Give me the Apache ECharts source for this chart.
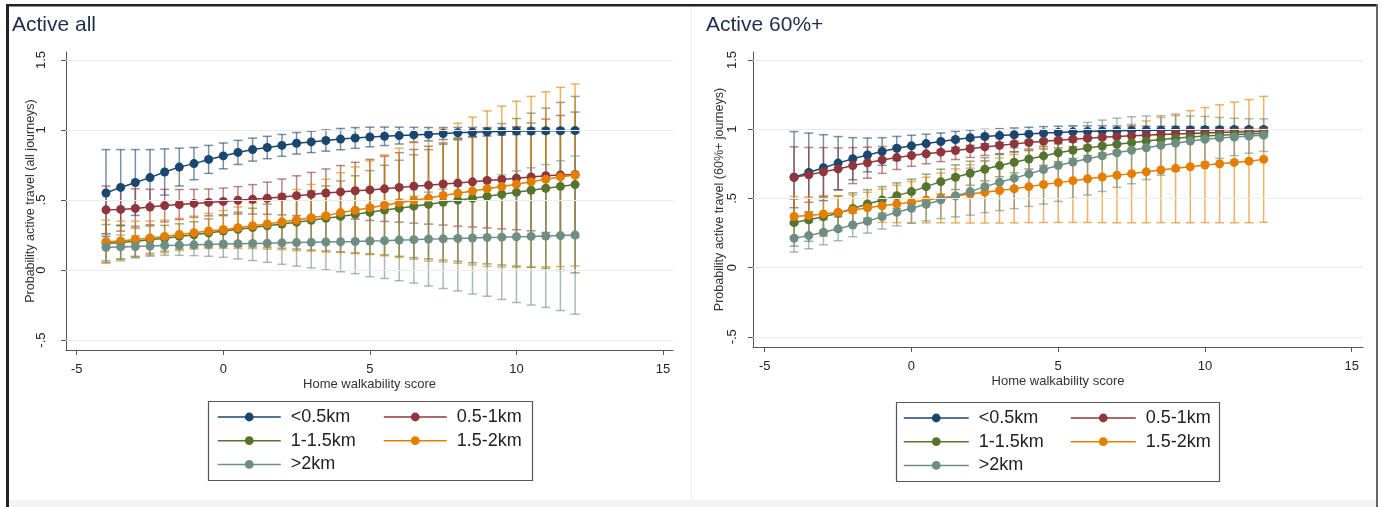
<!DOCTYPE html>
<html><head><meta charset="utf-8">
<script src="https://cdn.jsdelivr.net/npm/echarts@6/dist/echarts.min.js"></script>
<style>html,body{margin:0;padding:0;background:#fff}#c{width:1381px;height:507px}</style>
</head><body><div id="c"></div>
<script>
// ---------- DATA ----------
const xs = [-4,-3.5,-3,-2.5,-2,-1.5,-1,-0.5,0,0.5,1,1.5,2,2.5,3,3.5,4,4.5,5,5.5,6,6.5,7,7.5,8,8.5,9,9.5,10,10.5,11,11.5,12];
const seriesNames = ['<0.5km','0.5-1km','1-1.5km','1.5-2km','>2km'];
const panelTitles = ['Active all','Active 60%+'];
const yTitles = ['Probability active travel (all journeys)','Probability active travel (60%+ journeys)'];
const xTitle = 'Home walkability score';
const xTicks = [-5,0,5,10,15];
const xTickLabels = ['-5','0','5','10','15'];
const yTicks = [-0.5,0,0.5,1,1.5];
const yTickLabels = ['-.5','0','.5','1','1.5'];

// Panel 1: Active all  (point estimates and CI half-widths)
const all_lt05    = [0.55,0.59,0.625,0.66,0.70,0.735,0.76,0.79,0.815,0.84,0.86,0.875,0.89,0.905,0.915,0.925,0.935,0.943,0.95,0.955,0.96,0.965,0.97,0.975,0.98,0.984,0.987,0.99,0.992,0.993,0.994,0.995,0.996];
const all_lt05_ci = [0.31,0.27,0.235,0.2,0.165,0.135,0.115,0.1,0.092,0.086,0.082,0.08,0.078,0.077,0.076,0.076,0.076,0.074,0.07,0.066,0.06,0.054,0.048,0.043,0.038,0.034,0.03,0.027,0.024,0.021,0.019,0.017,0.015];
const all_05_1    = [0.43,0.433,0.44,0.45,0.46,0.468,0.476,0.483,0.49,0.498,0.505,0.513,0.522,0.531,0.54,0.55,0.558,0.566,0.572,0.58,0.59,0.598,0.606,0.614,0.621,0.63,0.639,0.647,0.656,0.665,0.673,0.679,0.683];
const all_05_1_ci = [0.17,0.155,0.14,0.127,0.116,0.107,0.1,0.096,0.095,0.098,0.105,0.115,0.128,0.142,0.157,0.172,0.188,0.203,0.218,0.233,0.248,0.263,0.278,0.293,0.308,0.323,0.338,0.353,0.368,0.385,0.405,0.425,0.445];
const all_1_15    = [0.19,0.196,0.206,0.216,0.227,0.24,0.252,0.265,0.278,0.29,0.303,0.316,0.329,0.342,0.355,0.369,0.383,0.398,0.413,0.428,0.441,0.456,0.47,0.484,0.499,0.512,0.527,0.541,0.555,0.57,0.584,0.597,0.61];
const all_1_15_ci = [0.135,0.12,0.108,0.098,0.092,0.09,0.093,0.1,0.11,0.123,0.138,0.155,0.173,0.192,0.212,0.232,0.253,0.275,0.297,0.32,0.343,0.367,0.39,0.413,0.437,0.46,0.483,0.505,0.527,0.55,0.572,0.6,0.63];
const all_15_2    = [0.202,0.207,0.218,0.228,0.24,0.254,0.267,0.279,0.29,0.302,0.316,0.329,0.344,0.357,0.373,0.388,0.41,0.427,0.445,0.462,0.48,0.497,0.514,0.532,0.548,0.564,0.581,0.596,0.612,0.63,0.648,0.665,0.679];
const all_15_2_ci = [0.154,0.142,0.131,0.122,0.117,0.115,0.118,0.125,0.135,0.148,0.163,0.18,0.198,0.218,0.238,0.26,0.285,0.31,0.335,0.36,0.39,0.42,0.45,0.475,0.5,0.528,0.555,0.575,0.593,0.61,0.625,0.64,0.65];
const all_gt2     = [0.162,0.165,0.168,0.171,0.175,0.177,0.18,0.183,0.186,0.188,0.19,0.192,0.194,0.196,0.198,0.2,0.202,0.204,0.207,0.21,0.214,0.217,0.221,0.223,0.226,0.229,0.233,0.235,0.238,0.24,0.243,0.246,0.25];
const all_gt2_ci  = [0.095,0.085,0.077,0.072,0.07,0.072,0.077,0.085,0.095,0.108,0.122,0.137,0.153,0.168,0.183,0.198,0.214,0.23,0.255,0.27,0.29,0.31,0.335,0.355,0.375,0.4,0.42,0.445,0.47,0.49,0.51,0.535,0.565];

// Panel 2: Active 60%+
const p60_lt05    = [0.653,0.687,0.722,0.755,0.787,0.814,0.839,0.862,0.88,0.896,0.911,0.926,0.938,0.947,0.954,0.96,0.966,0.972,0.977,0.981,0.984,0.987,0.989,0.991,0.992,0.993,0.994,0.995,0.996,0.996,0.997,0.997,0.997];
const p60_lt05_ci = [0.33,0.285,0.238,0.192,0.152,0.122,0.1,0.086,0.076,0.068,0.062,0.058,0.055,0.052,0.05,0.049,0.048,0.047,0.045,0.043,0.04,0.038,0.035,0.033,0.03,0.028,0.026,0.024,0.022,0.02,0.019,0.017,0.016];
const p60_05_1    = [0.653,0.67,0.692,0.713,0.737,0.758,0.778,0.795,0.81,0.822,0.834,0.846,0.859,0.872,0.883,0.894,0.904,0.913,0.92,0.928,0.935,0.942,0.947,0.952,0.957,0.961,0.965,0.969,0.973,0.976,0.979,0.982,0.985];
const p60_05_1_ci = [0.22,0.198,0.175,0.152,0.13,0.112,0.097,0.086,0.078,0.072,0.068,0.065,0.063,0.061,0.06,0.058,0.057,0.056,0.055,0.054,0.052,0.05,0.048,0.046,0.044,0.042,0.04,0.038,0.036,0.034,0.032,0.03,0.028];
const p60_1_15    = [0.325,0.345,0.368,0.393,0.427,0.46,0.489,0.52,0.549,0.585,0.621,0.653,0.682,0.711,0.737,0.761,0.785,0.807,0.83,0.848,0.865,0.879,0.891,0.903,0.915,0.926,0.935,0.944,0.951,0.957,0.961,0.966,0.971];
const p60_1_15_ci = [0.17,0.155,0.14,0.126,0.113,0.103,0.096,0.092,0.09,0.09,0.09,0.089,0.087,0.084,0.08,0.076,0.072,0.068,0.064,0.06,0.056,0.052,0.049,0.046,0.043,0.04,0.037,0.034,0.032,0.03,0.028,0.026,0.024];
const p60_15_2    = [0.369,0.376,0.388,0.4,0.416,0.432,0.447,0.46,0.472,0.488,0.503,0.518,0.532,0.545,0.557,0.57,0.585,0.6,0.614,0.628,0.642,0.655,0.667,0.679,0.692,0.705,0.717,0.729,0.741,0.75,0.76,0.769,0.782];
const p60_15_2_ci = [0.145,0.135,0.125,0.115,0.11,0.112,0.12,0.135,0.15,0.165,0.18,0.195,0.21,0.223,0.235,0.247,0.26,0.274,0.288,0.302,0.316,0.33,0.343,0.355,0.368,0.38,0.393,0.405,0.416,0.426,0.436,0.445,0.455];
const p60_gt2     = [0.212,0.231,0.255,0.28,0.308,0.335,0.368,0.4,0.429,0.458,0.489,0.518,0.549,0.585,0.617,0.646,0.677,0.709,0.738,0.763,0.787,0.808,0.83,0.848,0.866,0.883,0.899,0.914,0.927,0.937,0.944,0.951,0.957];
const p60_gt2_ci  = [0.1,0.095,0.09,0.086,0.085,0.086,0.09,0.098,0.108,0.12,0.135,0.152,0.17,0.188,0.205,0.22,0.235,0.25,0.26,0.262,0.262,0.258,0.25,0.242,0.23,0.215,0.2,0.182,0.165,0.148,0.135,0.125,0.118];

const panels = [
  {vals:[all_lt05,all_05_1,all_1_15,all_15_2,all_gt2], cis:[all_lt05_ci,all_05_1_ci,all_1_15_ci,all_15_2_ci,all_gt2_ci]},
  {vals:[p60_lt05,p60_05_1,p60_1_15,p60_15_2,p60_gt2], cis:[p60_lt05_ci,p60_05_1_ci,p60_1_15_ci,p60_15_2_ci,p60_gt2_ci]}
];

// ---------- STYLE / LAYOUT ----------
const colors = ['#1a476f','#90353b','#55752f','#e37e00','#6e8e84'];
const FONT = '"Liberation Sans", Arial, sans-serif';
const grids = [
  {left:66, top:52, width:607, height:298},
  {left:753, top:52, width:610, height:295}
];
const xRanges = [[-5.365,15.34],[-5.4,15.385]];
const yRanges = [[-0.571,1.557],[-0.574,1.558]];
const yLabelMargin = [18, 14];
const yNameGap = [29, 27];

const chart = echarts.init(document.getElementById('c'), null, {renderer:'canvas'});

const xAxes = [], yAxes = [], series = [];
for (let p = 0; p < 2; p++) {
  xAxes.push({
    type:'value', gridIndex:p, min:xRanges[p][0], max:xRanges[p][1],
    axisLine:{show:true, onZero:false, lineStyle:{color:'#555', width:1}},
    axisTick:{show:true, length:5, customValues:xTicks, lineStyle:{color:'#555'}},
    axisLabel:{customValues:xTicks, formatter:v => xTickLabels[xTicks.indexOf(v)], fontSize:13, color:'#222', fontFamily:FONT, margin:13},
    splitLine:{show:false},
    name:xTitle, nameLocation:'middle', nameGap:28, nameMoveOverlap:false,
    nameTextStyle:{fontSize:13, color:'#333', fontFamily:FONT}
  });
  yAxes.push({
    type:'value', gridIndex:p, min:yRanges[p][0], max:yRanges[p][1],
    axisLine:{show:true, onZero:false, lineStyle:{color:'#555', width:1}},
    axisTick:{show:true, length:5, customValues:yTicks, lineStyle:{color:'#555'}},
    axisLabel:{customValues:yTicks, formatter:v => yTickLabels[yTicks.indexOf(v)], rotate:90, fontSize:13, color:'#222', fontFamily:FONT, margin:yLabelMargin[p]},
    splitLine:{show:false},
    name:yTitles[p], nameLocation:'middle', nameGap:yNameGap[p], nameRotate:90, nameMoveOverlap:false,
    nameTextStyle:{fontSize:12.5, color:'#333', fontFamily:FONT}
  });
  // gridlines
  series.push({
    type:'line', xAxisIndex:p, yAxisIndex:p, data:[], silent:true,
    markLine:{silent:true, symbol:['none','none'], label:{show:false},
      lineStyle:{color:'#ebebeb', width:1, type:'solid'},
      data: yTicks.map(t => ({yAxis:t}))}
  });
  const P = panels[p];
  for (let k = 0; k < 5; k++) {
    const col = colors[k];
    series.push({
      type:'custom', name:seriesNames[k] + ' 95% CI', xAxisIndex:p, yAxisIndex:p, z:2, silent:true,
      data: xs.map((x,i) => [x, P.vals[k][i] - P.cis[k][i], P.vals[k][i] + P.cis[k][i]]),
      encode:{x:0, y:[1,2]},
      renderItem: (params, api) => {
        const x = api.value(0);
        const a = api.coord([x, api.value(1)]);
        const b = api.coord([x, api.value(2)]);
        const hw = 4.5;
        const st = {stroke:col, lineWidth:1.5, opacity:0.6};
        return {type:'group', children:[
          {type:'line', shape:{x1:a[0], y1:a[1], x2:b[0], y2:b[1]}, style:st},
          {type:'line', shape:{x1:a[0]-hw, y1:a[1], x2:a[0]+hw, y2:a[1]}, style:st},
          {type:'line', shape:{x1:b[0]-hw, y1:b[1], x2:b[0]+hw, y2:b[1]}, style:st}
        ]};
      }
    });
  }
  for (let k = 0; k < 5; k++) {
    series.push({
      type:'line', name:seriesNames[k], xAxisIndex:p, yAxisIndex:p, z:3,
      data: xs.map((x,i) => [x, P.vals[k][i]]),
      symbol:'circle', symbolSize:9, showAllSymbol:true,
      itemStyle:{color:colors[k]}, lineStyle:{color:colors[k], width:1.5}
    });
  }
}

function legendCol(left, top, names, w) {
  return {
    orient:'vertical', left:left, top:top, padding:0, itemGap:5.7,
    itemWidth:w, itemHeight:11, selectedMode:false, data:names,
    lineStyle:{width:1.5},
    textStyle:{fontSize:18, lineHeight:18, color:'#222', fontFamily:FONT, padding:[0,0,0,5]}
  };
}

const option = {
  animation:false,
  backgroundColor:'#ffffff',
  title: [
    {text:panelTitles[0], left:7, top:10, padding:5, textStyle:{fontSize:21, fontWeight:'normal', color:'#1f2d4d', fontFamily:FONT}},
    {text:panelTitles[1], left:701, top:10, padding:5, textStyle:{fontSize:21, fontWeight:'normal', color:'#1f2d4d', fontFamily:FONT}}
  ],
  grid: grids,
  xAxis: xAxes,
  yAxis: yAxes,
  legend: [
    legendCol(217, 408, [seriesNames[0], seriesNames[2], seriesNames[4]], 63),
    legendCol(383, 408, [seriesNames[1], seriesNames[3]], 63),
    legendCol(903, 409, [seriesNames[0], seriesNames[2], seriesNames[4]], 65),
    legendCol(1070, 409, [seriesNames[1], seriesNames[3]], 65)
  ],
  series: series,
  graphic: [
    {type:'rect', shape:{x:208.5, y:401.5, width:324, height:79}, style:{fill:'none', stroke:'#555', lineWidth:1.2}, silent:true},
    {type:'rect', shape:{x:896.5, y:402.5, width:323, height:79}, style:{fill:'none', stroke:'#555', lineWidth:1.2}, silent:true},
    {type:'rect', shape:{x:9, y:500, width:1367, height:7}, style:{fill:'#f3f3f3'}, silent:true},
    {type:'line', shape:{x1:691.5, y1:6, x2:691.5, y2:500}, style:{stroke:'#efefef', lineWidth:1}, silent:true},
    {type:'rect', shape:{x:6, y:4, width:3, height:503}, style:{fill:'#222'}, silent:true},
    {type:'rect', shape:{x:6, y:4, width:1372, height:2.5}, style:{fill:'#222'}, silent:true},
    {type:'rect', shape:{x:1376, y:4, width:2, height:503}, style:{fill:'#666'}, silent:true}
  ]
};
chart.setOption(option);
</script>
</body></html>
